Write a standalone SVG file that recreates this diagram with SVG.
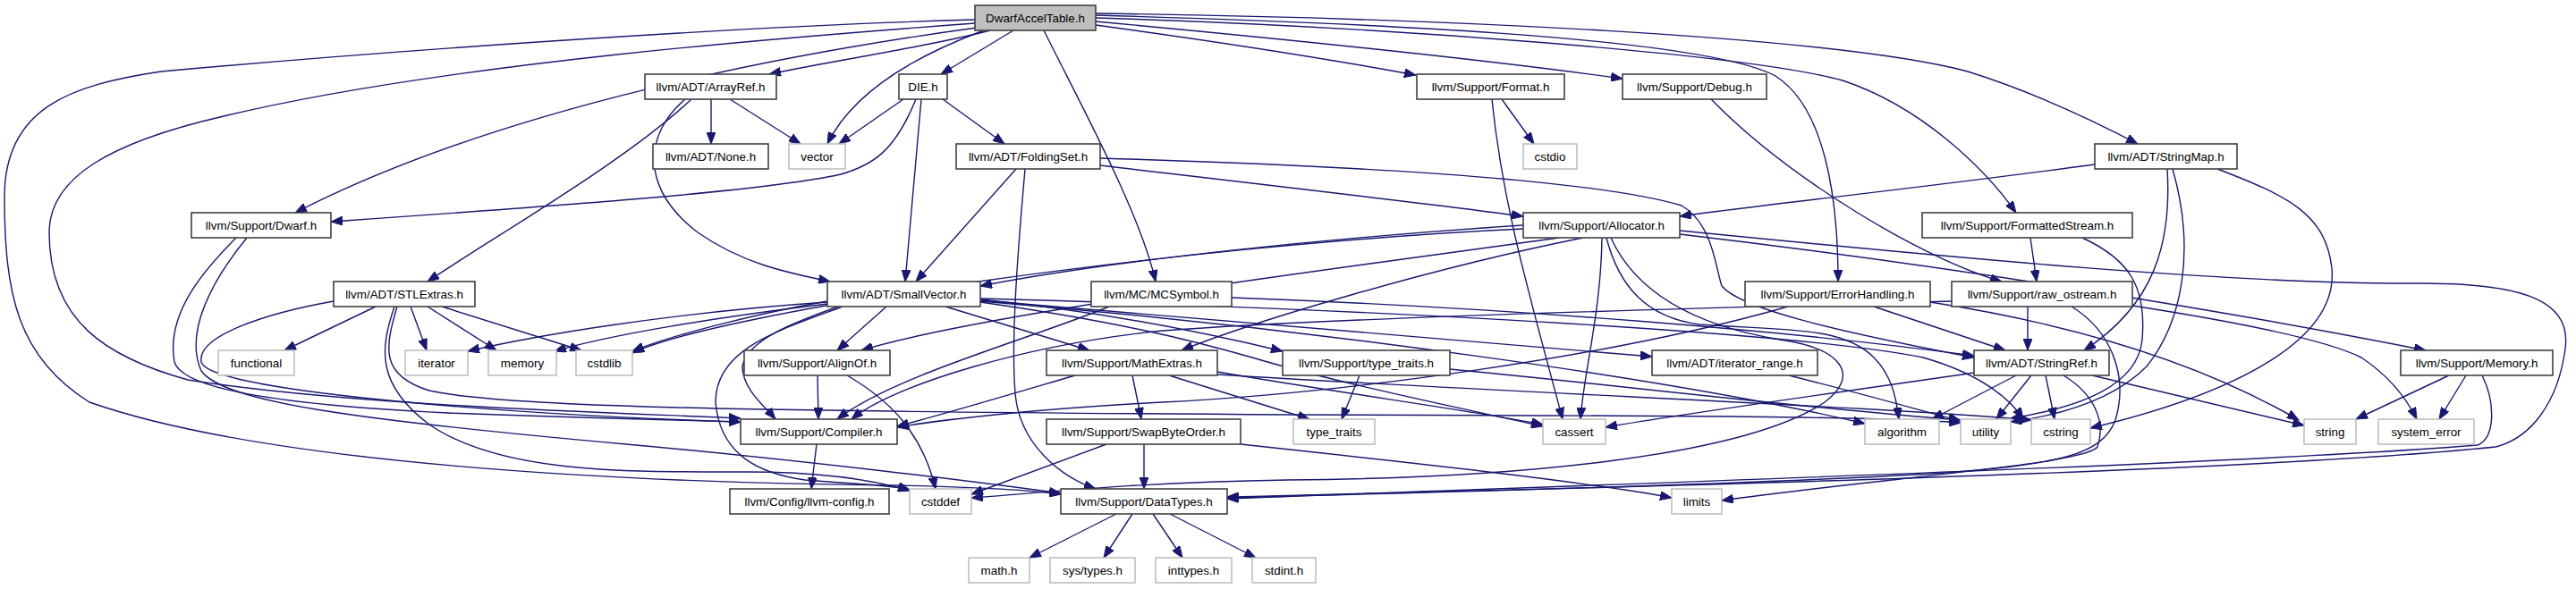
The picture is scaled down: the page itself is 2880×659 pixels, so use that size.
<svg xmlns="http://www.w3.org/2000/svg" width="2880" height="659" viewBox="0 0 2880 659">
<defs>
<marker id="arr" markerWidth="14" markerHeight="10" refX="13" refY="5" orient="auto" markerUnits="userSpaceOnUse"><path d="M0,0 L13,5 L0,10 z" fill="#191970" stroke="#191970" stroke-width="1"/></marker>
<style>
.e{fill:none;stroke:#191970;stroke-width:1.4;marker-end:url(#arr)}
.n rect{fill:#fff;stroke:#404040;stroke-width:1.6}
.x rect{fill:#fff;stroke:#bfbfbf;stroke-width:1.6}
.r rect{fill:#bfbfbf;stroke:#404040;stroke-width:1.6}
text{font-family:"Liberation Sans",Arial,sans-serif;font-size:13.4px;text-anchor:middle;fill:#000}
</style>
</defs>
<rect width="2880" height="659" fill="#fff"/>
<g id="edges">
<path class="e" d="M1107,34 C1040,52 930,68 860,83"/>
<path class="e" d="M1133,34 L1052,83"/>
<path class="e" d="M1100,34 C1030,60 955,100 925,161"/>
<path class="e" d="M1092,31 C880,60 560,120 330,238"/>
<path class="e" d="M1167,34 C1215,130 1275,240 1292,315"/>
<path class="e" d="M1225,28 C1350,45 1480,65 1583,84"/>
<path class="e" d="M1225,24 C1450,45 1650,65 1814,88"/>
<path class="e" d="M1225,17 C1500,25 1900,40 1985,85 C2040,120 2055,220 2055,315"/>
<path class="e" d="M1225,20 C1550,30 1950,60 2060,90 C2150,120 2220,190 2254,238"/>
<path class="e" d="M1225,15 C1600,20 2050,40 2200,80 C2280,105 2350,140 2390,161"/>
<path class="e" d="M1090,26 C900,40 500,70 250,130 C120,160 55,200 55,260 C55,360 120,400 210,425 C400,455 700,462 828,468"/>
<path class="e" d="M1090,22 C800,30 400,60 180,80 C80,95 5,120 5,220 C5,330 20,400 100,450 C300,520 700,540 1000,543 C1100,545 1150,548 1186,553"/>
<path class="e" d="M264,266 C230,300 185,350 195,405 C205,440 350,455 500,462 C650,468 760,470 828,472"/>
<path class="e" d="M276,266 C240,310 205,370 225,415 C250,450 400,470 700,497 C900,515 1100,540 1186,552"/>
<path class="e" d="M420,343 L318,392"/>
<path class="e" d="M459,343 L477,392"/>
<path class="e" d="M478,343 L555,392"/>
<path class="e" d="M494,343 L650,392"/>
<path class="e" d="M373,337 C300,350 220,375 225,405 C235,440 600,465 828,472"/>
<path class="e" d="M441,343 C425,390 420,430 480,475 C560,530 700,528 835,528 C920,528 980,538 1017,549"/>
<path class="e" d="M444,343 C430,390 425,420 480,437 C560,455 800,460 1440,464 C1900,465 2100,466 2192,473"/>
<path class="e" d="M795,111 L795,161"/>
<path class="e" d="M816,111 L895,161"/>
<path class="e" d="M773,111 C700,180 560,260 478,315"/>
<path class="e" d="M766,111 C720,150 715,210 780,260 C830,295 880,305 928,315"/>
<path class="e" d="M1010,111 L938,161"/>
<path class="e" d="M1054,111 L1123,161"/>
<path class="e" d="M1030,111 L1012,315"/>
<path class="e" d="M1024,111 C1000,170 975,185 940,195 C850,215 600,232 370,248"/>
<path class="e" d="M1136,189 L1024,315"/>
<path class="e" d="M1146,189 C1138,280 1130,380 1135,440 C1140,500 1190,535 1225,547"/>
<path class="e" d="M1230,185 C1400,205 1600,228 1703,242"/>
<path class="e" d="M1230,177 C1500,185 1780,200 1880,230 C1915,250 1918,300 1925,320 C1945,345 2050,370 2207,400"/>
<path class="e" d="M991,343 L936,392"/>
<path class="e" d="M937,343 C890,360 835,380 830,410 C830,435 855,455 867,469"/>
<path class="e" d="M942,343 C870,370 800,390 800,450 C805,510 850,530 900,537 C960,542 1000,543 1017,548"/>
<path class="e" d="M1057,343 L1218,392"/>
<path class="e" d="M925,337 C850,350 750,375 707,393"/>
<path class="e" d="M925,340 C800,355 680,375 620,393"/>
<path class="e" d="M925,338 C750,350 600,375 523,393"/>
<path class="e" d="M1096,335 C1250,350 1380,380 1434,393"/>
<path class="e" d="M1096,336 C1400,360 1700,385 1847,399"/>
<path class="e" d="M1096,337 C1500,370 1900,430 2085,474"/>
<path class="e" d="M1096,338 C1250,360 1330,380 1400,400 C1500,430 1650,460 1725,477"/>
<path class="e" d="M1096,334 C1500,345 2000,370 2150,400 C2220,420 2250,450 2262,469"/>
<path class="e" d="M1240,343 C1150,380 1000,420 936,469"/>
<path class="e" d="M1377,333 C1700,345 2000,370 2207,398"/>
<path class="e" d="M1703,252 C1500,265 1250,290 1096,320"/>
<path class="e" d="M1703,256 C1300,275 800,350 707,395"/>
<path class="e" d="M1743,266 C1500,300 1100,350 963,392"/>
<path class="e" d="M1770,266 C1600,300 1400,360 1321,392"/>
<path class="e" d="M1791,266 C1790,350 1770,420 1767,469"/>
<path class="e" d="M1796,266 C1810,320 1840,355 1900,363 C2000,370 2060,365 2095,400 C2115,420 2120,445 2123,469"/>
<path class="e" d="M1801,266 C1830,330 1900,365 1990,380 C2060,390 2080,420 2040,450 C1950,510 1700,535 1440,537 C1250,540 1150,553 1086,557"/>
<path class="e" d="M1878,258 C2200,290 2500,318 2700,317 C2830,316 2875,340 2868,390 C2860,450 2830,490 2790,500 C2500,530 1700,548 1372,556"/>
<path class="e" d="M1878,262 C2200,300 2500,350 2712,392"/>
<path class="e" d="M1679,111 L1715,161"/>
<path class="e" d="M1668,111 C1680,230 1710,330 1747,469"/>
<path class="e" d="M1913,111 C2000,200 2150,290 2238,315"/>
<path class="e" d="M2342,184 C2150,210 1980,228 1878,242"/>
<path class="e" d="M2423,189 C2428,270 2410,340 2330,392"/>
<path class="e" d="M2429,189 C2455,280 2440,360 2400,410 C2360,450 2300,465 2248,472"/>
<path class="e" d="M2479,189 C2560,220 2600,240 2607,300 C2615,380 2500,440 2337,479"/>
<path class="e" d="M2270,266 L2277,315"/>
<path class="e" d="M2328,266 C2380,290 2400,320 2395,380 C2390,430 2330,455 2248,468"/>
<path class="e" d="M2267,343 L2267,392"/>
<path class="e" d="M2182,337 C1900,345 1500,355 1300,370 C1150,385 1000,430 952,469"/>
<path class="e" d="M2316,343 C2360,370 2380,420 2365,470 C2350,510 2300,520 2160,530 C1900,545 1500,553 1372,557"/>
<path class="e" d="M2384,342 C2500,360 2600,380 2640,400 C2670,420 2690,445 2702,469"/>
<path class="e" d="M2095,343 L2242,392"/>
<path class="e" d="M1999,343 C1800,400 1500,440 1300,450 C1150,458 1050,470 1003,478"/>
<path class="e" d="M2158,338 C2300,360 2450,400 2570,470"/>
<path class="e" d="M2254,420 L2160,469"/>
<path class="e" d="M2271,420 L2232,469"/>
<path class="e" d="M2287,420 L2297,469"/>
<path class="e" d="M2339,420 L2576,476"/>
<path class="e" d="M2207,417 C2050,440 1900,460 1795,478"/>
<path class="e" d="M2307,420 C2340,440 2355,470 2345,500 C2330,520 2100,535 1925,560"/>
<path class="e" d="M2738,420 L2634,469"/>
<path class="e" d="M2757,420 L2727,469"/>
<path class="e" d="M2775,420 C2790,450 2790,490 2770,498 C2500,520 1700,545 1372,558"/>
<path class="e" d="M2000,420 C2080,440 2150,460 2192,471"/>
<path class="e" d="M1520,420 L1500,469"/>
<path class="e" d="M1621,413 C1800,430 2000,455 2192,470"/>
<path class="e" d="M1202,420 C1100,450 1050,465 1003,477"/>
<path class="e" d="M1266,420 L1276,469"/>
<path class="e" d="M1307,420 L1464,469"/>
<path class="e" d="M1361,416 C1500,440 1650,460 1725,475"/>
<path class="e" d="M1361,419 C1700,440 2100,455 2271,470"/>
<path class="e" d="M1237,497 L1086,553"/>
<path class="e" d="M1279,497 L1279,547"/>
<path class="e" d="M1387,497 C1600,520 1780,540 1869,557"/>
<path class="e" d="M914,420 L915,469"/>
<path class="e" d="M947,420 C990,445 1030,480 1046,547"/>
<path class="e" d="M913,497 L907,547"/>
<path class="e" d="M1248,575 L1151,624"/>
<path class="e" d="M1266,575 L1234,624"/>
<path class="e" d="M1289,575 L1322,624"/>
<path class="e" d="M1308,575 L1404,624"/>
</g>
<g id="n_DwarfAccelTable" class="r"><rect x="1090" y="6" width="135" height="28"/><text x="1157.5" y="24.8">DwarfAccelTable.h</text></g>
<g id="n_ArrayRef" class="n"><rect x="721" y="83" width="147" height="28"/><text x="794.5" y="101.8">llvm/ADT/ArrayRef.h</text></g>
<g id="n_DIE" class="n"><rect x="1005" y="83" width="54" height="28"/><text x="1032" y="101.8">DIE.h</text></g>
<g id="n_Format" class="n"><rect x="1584" y="83" width="165" height="28"/><text x="1666.5" y="101.8">llvm/Support/Format.h</text></g>
<g id="n_Debug" class="n"><rect x="1814" y="83" width="161" height="28"/><text x="1894.5" y="101.8">llvm/Support/Debug.h</text></g>
<g id="n_None" class="n"><rect x="730" y="161" width="129" height="28"/><text x="794.5" y="179.8">llvm/ADT/None.h</text></g>
<g id="n_vector" class="x"><rect x="882" y="161" width="63" height="28"/><text x="913.5" y="179.8">vector</text></g>
<g id="n_FoldingSet" class="n"><rect x="1069" y="161" width="161" height="28"/><text x="1149.5" y="179.8">llvm/ADT/FoldingSet.h</text></g>
<g id="n_cstdio" class="x"><rect x="1703" y="161" width="60" height="28"/><text x="1733" y="179.8">cstdio</text></g>
<g id="n_StringMap" class="n"><rect x="2342" y="161" width="159" height="28"/><text x="2421.5" y="179.8">llvm/ADT/StringMap.h</text></g>
<g id="n_Dwarf" class="n"><rect x="214" y="238" width="156" height="28"/><text x="292" y="256.8">llvm/Support/Dwarf.h</text></g>
<g id="n_Allocator" class="n"><rect x="1703" y="238" width="175" height="28"/><text x="1790.5" y="256.8">llvm/Support/Allocator.h</text></g>
<g id="n_FormattedStream" class="n"><rect x="2149" y="238" width="235" height="28"/><text x="2266.5" y="256.8">llvm/Support/FormattedStream.h</text></g>
<g id="n_STLExtras" class="n"><rect x="373" y="315" width="158" height="28"/><text x="452" y="333.8">llvm/ADT/STLExtras.h</text></g>
<g id="n_SmallVector" class="n"><rect x="925" y="315" width="171" height="28"/><text x="1010.5" y="333.8">llvm/ADT/SmallVector.h</text></g>
<g id="n_MCSymbol" class="n"><rect x="1220" y="315" width="157" height="28"/><text x="1298.5" y="333.8">llvm/MC/MCSymbol.h</text></g>
<g id="n_ErrorHandling" class="n"><rect x="1951" y="315" width="207" height="28"/><text x="2054.5" y="333.8">llvm/Support/ErrorHandling.h</text></g>
<g id="n_raw_ostream" class="n"><rect x="2182" y="315" width="202" height="28"/><text x="2283" y="333.8">llvm/Support/raw_ostream.h</text></g>
<g id="n_functional" class="x"><rect x="244" y="392" width="85" height="28"/><text x="286.5" y="410.8">functional</text></g>
<g id="n_iterator" class="x"><rect x="453" y="392" width="70" height="28"/><text x="488" y="410.8">iterator</text></g>
<g id="n_memory" class="x"><rect x="546" y="392" width="76" height="28"/><text x="584" y="410.8">memory</text></g>
<g id="n_cstdlib" class="x"><rect x="644" y="392" width="63" height="28"/><text x="675.5" y="410.8">cstdlib</text></g>
<g id="n_AlignOf" class="n"><rect x="832" y="392" width="163" height="28"/><text x="913.5" y="410.8">llvm/Support/AlignOf.h</text></g>
<g id="n_MathExtras" class="n"><rect x="1170" y="392" width="191" height="28"/><text x="1265.5" y="410.8">llvm/Support/MathExtras.h</text></g>
<g id="n_type_traits_h" class="n"><rect x="1434" y="392" width="187" height="28"/><text x="1527.5" y="410.8">llvm/Support/type_traits.h</text></g>
<g id="n_iterator_range" class="n"><rect x="1847" y="392" width="185" height="28"/><text x="1939.5" y="410.8">llvm/ADT/iterator_range.h</text></g>
<g id="n_StringRef" class="n"><rect x="2207" y="392" width="151" height="28"/><text x="2282.5" y="410.8">llvm/ADT/StringRef.h</text></g>
<g id="n_Memory" class="n"><rect x="2684" y="392" width="170" height="28"/><text x="2769" y="410.8">llvm/Support/Memory.h</text></g>
<g id="n_Compiler" class="n"><rect x="828" y="469" width="175" height="28"/><text x="915.5" y="487.8">llvm/Support/Compiler.h</text></g>
<g id="n_SwapByteOrder" class="n"><rect x="1170" y="469" width="217" height="28"/><text x="1278.5" y="487.8">llvm/Support/SwapByteOrder.h</text></g>
<g id="n_type_traits" class="x"><rect x="1446" y="469" width="91" height="28"/><text x="1491.5" y="487.8">type_traits</text></g>
<g id="n_cassert" class="x"><rect x="1725" y="469" width="70" height="28"/><text x="1760" y="487.8">cassert</text></g>
<g id="n_algorithm" class="x"><rect x="2085" y="469" width="83" height="28"/><text x="2126.5" y="487.8">algorithm</text></g>
<g id="n_utility" class="x"><rect x="2192" y="469" width="56" height="28"/><text x="2220" y="487.8">utility</text></g>
<g id="n_cstring" class="x"><rect x="2271" y="469" width="66" height="28"/><text x="2304" y="487.8">cstring</text></g>
<g id="n_string" class="x"><rect x="2576" y="469" width="58" height="28"/><text x="2605" y="487.8">string</text></g>
<g id="n_system_error" class="x"><rect x="2659" y="469" width="107" height="28"/><text x="2712.5" y="487.8">system_error</text></g>
<g id="n_llvm_config" class="n"><rect x="816" y="547" width="178" height="28"/><text x="905" y="565.8">llvm/Config/llvm-config.h</text></g>
<g id="n_cstddef" class="x"><rect x="1017" y="547" width="69" height="28"/><text x="1051.5" y="565.8">cstddef</text></g>
<g id="n_DataTypes" class="n"><rect x="1186" y="547" width="186" height="28"/><text x="1279" y="565.8">llvm/Support/DataTypes.h</text></g>
<g id="n_limits" class="x"><rect x="1869" y="547" width="56" height="28"/><text x="1897" y="565.8">limits</text></g>
<g id="n_math" class="x"><rect x="1083" y="624" width="68" height="28"/><text x="1117" y="642.8">math.h</text></g>
<g id="n_sys_types" class="x"><rect x="1174" y="624" width="95" height="28"/><text x="1221.5" y="642.8">sys/types.h</text></g>
<g id="n_inttypes" class="x"><rect x="1292" y="624" width="85" height="28"/><text x="1334.5" y="642.8">inttypes.h</text></g>
<g id="n_stdint" class="x"><rect x="1400" y="624" width="71" height="28"/><text x="1435.5" y="642.8">stdint.h</text></g>
</svg>
